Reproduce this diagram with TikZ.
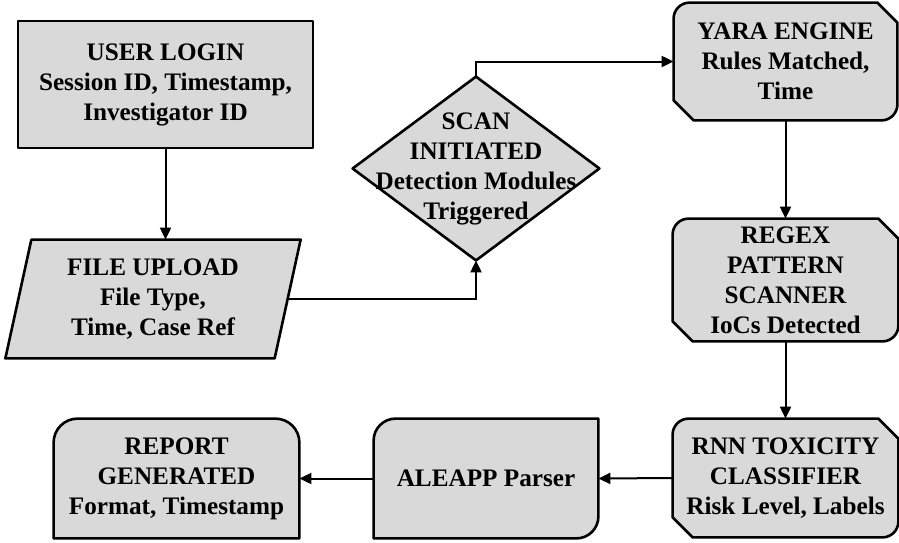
\documentclass[tikz,border=0pt]{standalone}
\usepackage{fontspec}
\setmainfont{Liberation Serif}
\usetikzlibrary{arrows.meta, positioning, calc, backgrounds}
\definecolor{boxgray}{RGB}{217,217,217}

% outlines drawn round a node's box
\newcommand{\octbox}[1]{%
  \filldraw[outline] ([yshift=-8pt]#1.north west) arc[start angle=180, end angle=90, radius=8pt]
    -- ([xshift=-10pt]#1.north east) -- ([yshift=-10pt]#1.north east)
    -- ([yshift=8pt]#1.south east) arc[start angle=0, end angle=-90, radius=8pt]
    -- ([xshift=10pt]#1.south west) -- ([yshift=10pt]#1.south west) -- cycle;}
\newcommand{\cardbox}[1]{%
  \filldraw[outline] ([yshift=-11pt]#1.north west) arc[start angle=180, end angle=90, radius=11pt]
    -- (#1.north east) -- ([yshift=11pt]#1.south east) arc[start angle=0, end angle=-90, radius=11pt]
    -- (#1.south west) -- cycle;}
\newcommand{\tabbox}[1]{%
  \filldraw[outline] (#1.south west) -- ([yshift=-12pt]#1.north west) arc[start angle=180, end angle=90, radius=12pt]
    -- ([xshift=-12pt]#1.north east) arc[start angle=90, end angle=0, radius=12pt]
    -- (#1.south east) -- cycle;}
\newcommand{\slantbox}[1]{%
  \filldraw[outline] ([xshift=-6.5pt]#1.south west) -- ([xshift=6.5pt]#1.north west)
    -- ([xshift=6.5pt]#1.north east) -- ([xshift=-6.5pt]#1.south east) -- cycle;}
\newcommand{\decisionbox}[1]{%
  \filldraw[outline] (#1.north) -- (#1.east) -- (#1.south) -- (#1.west) -- cycle;}

\begin{document}
\begin{tikzpicture}[x=0.5pt, y=-0.5pt,
  block/.style={rectangle, inner sep=0pt, align=center, font=\bfseries\fontsize{12.6}{15}\selectfont},
  outline/.style={draw=black, fill=boxgray, line width=1.3pt, line join=round},
  arrow/.style={line width=1pt, -{Triangle[length=6pt, width=5.5pt]}}]
  \useasboundingbox (0,0) rectangle (899,542);

  % Intake
  \node[block, outline, minimum width=147.5pt, minimum height=63.5pt] (login) at (165.5,84.5) {USER LOGIN\\Session ID, Timestamp,\\Investigator ID};
  \node[block, minimum width=134.25pt, minimum height=59pt] (upload) at (153,299) {FILE UPLOAD\\File Type,\\Time, Case Ref};
  \node[block, minimum width=123pt, minimum height=91.5pt] (scan) at (476,168.5) {SCAN\\INITIATED\\Detection Modules\\Triggered};

  % Detection modules
  \node[block, minimum width=111.5pt, minimum height=58.5pt] (yara) at (785.5,61.5) {YARA ENGINE\\Rules Matched,\\Time};
  \node[block, minimum width=112.5pt, minimum height=61pt] (regex) at (785.5,280) {REGEX\\PATTERN\\SCANNER\\IoCs Detected};
  \node[block, minimum width=112.5pt, minimum height=59pt] (rnn) at (785.5,478) {RNN TOXICITY\\CLASSIFIER\\Risk Level, Labels};

  % Output
  \node[block, minimum width=112pt, minimum height=59.5pt] (aleapp) at (486,478.5) {ALEAPP Parser};
  \node[block, minimum width=122.5pt, minimum height=59.5pt] (report) at (176.5,478.5) {REPORT\\GENERATED\\Format, Timestamp};

  % Shapes behind the text
  \begin{scope}[on background layer]
    \slantbox{upload}
    \decisionbox{scan}
    \octbox{yara}
    \octbox{regex}
    \octbox{rnn}
    \cardbox{aleapp}
    \tabbox{report}
  \end{scope}

  % Flow
  \draw[arrow] (login.south) -- (login.south |- upload.north);
  \draw[arrow] (upload.east) -| (scan.south);
  \draw[arrow] (scan.north) |- (yara.west);
  \draw[arrow] (yara.south) -- (regex.north);
  \draw[arrow] (regex.south) -- (rnn.north);
  \draw[arrow] (rnn.west) -- (aleapp.east);
  \draw[arrow] (aleapp.west) -- (report.east);
\end{tikzpicture}
\end{document}
